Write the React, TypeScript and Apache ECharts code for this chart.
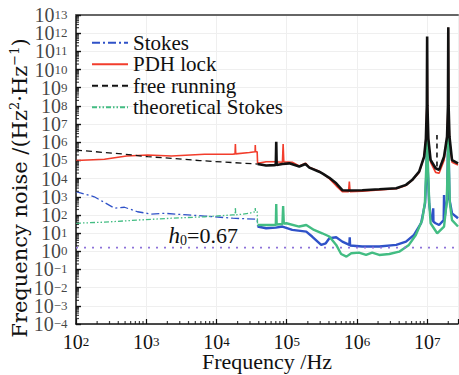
import React, { useEffect, useRef } from 'react';
import * as echarts from 'echarts';

const freqRange: [number, number] = [100, 2.75e7];
const noiseRange: [number, number] = [1e-4, 1e13];
const xDecades = [2, 3, 4, 5, 6, 7];
const yDecades = [-4, -3, -2, -1, 0, 1, 2, 3, 4, 5, 6, 7, 8, 9, 10, 11, 12, 13];
const minorSteps = [2, 3, 4, 5, 6, 7, 8, 9];

const legendNames = ['Stokes', 'PDH lock', 'free running', 'theoretical Stokes'];
const xTitle = 'Frequency /Hz';
const h0Value = 0.67;
const h0Level = 1.6;

const pdhLock: [number, number][] = [
  [100, 9.8e4], [254, 1.15e5], [525, 1.74e5], [1050, 2.0e5], [2290, 1.74e5], [6760, 2.2e5],
  [1.7e4, 2.2e5], [1.84e4, 2.3e5], [1.86e4, 7.9e5], [1.88e4, 2.3e5], [2.95e4, 2.7e5],
  [3.55e4, 3.0e5], [3.57e4, 7.0e5], [3.6e4, 3.0e5], [3.8e4, 3.0e5], [3.85e4, 6.9e4],
  [5.1e4, 8.5e4], [6.6e4, 8.5e4], [8.7e4, 7.9e4], [8.9e4, 7.9e5], [9.1e4, 8.3e4],
  [1.2e5, 7.9e4], [1.51e5, 5.0e4], [1.85e5, 7.1e4], [2.1e5, 4.2e4], [2.9e5, 2.5e4],
  [3.3e5, 1.8e4], [4.05e5, 1.0e4], [5.07e5, 4.0e3], [6.2e5, 1.9e3], [7.6e5, 1.9e3],
  [7.8e5, 6.8e3], [8.0e5, 1.9e3], [1.19e6, 2.0e3], [2.08e6, 2.4e3], [3.63e6, 2.8e3],
  [5.0e6, 4.2e3], [6.1e6, 7.9e3], [7.7e6, 2.2e4], [9.06e6, 1.6e5], [9.6e6, 1.6e6],
  [9.9e6, 1e8], [1e7, 5.6e11], [1.01e7, 1e8], [1.04e7, 1.3e6], [1.12e7, 7.9e4],
  [1.32e7, 2.2e4], [1.48e7, 1.95e4], [1.74e7, 1.0e5], [1.92e7, 1.6e6], [1.98e7, 1e8],
  [2.0e7, 2.0e12], [2.02e7, 1e8], [2.08e7, 1.6e6], [2.26e7, 7.9e4], [2.75e7, 5.6e4],
];

const freeRunningDashed: [number, number][] = [
  [100, 3.7e5], [490, 2.2e5], [1050, 1.6e5], [2290, 1.3e5], [5750, 9.8e4], [1.7e4, 7.6e4], [3.85e4, 6.3e4],
];

const freeRunningNoisy: [number, number][] = [
  [3.85e4, 6.3e4], [5.1e4, 5.2e4], [6.6e4, 5.5e4], [7.0e4, 5.6e4], [7.1e4, 1.07e6], [7.2e4, 5.6e4],
  [8.7e4, 6.3e4], [1.09e5, 6.9e4], [1.51e5, 4.6e4], [1.85e5, 6.3e4], [2.1e5, 4.0e4],
  [2.9e5, 2.4e4], [3.3e5, 1.8e4], [4.05e5, 1.1e4], [5.07e5, 5.5e3], [6.2e5, 2.3e3],
  [7.8e5, 2.2e3], [1.19e6, 2.3e3], [2.08e6, 2.6e3], [3.63e6, 2.95e3], [5.0e6, 4.5e3],
  [6.1e6, 8.3e3], [7.7e6, 2.4e4], [9.06e6, 1.6e5], [9.6e6, 1.6e6], [9.9e6, 1e8],
  [1e7, 6.5e11], [1.01e7, 1e8], [1.04e7, 1.6e6], [1.12e7, 1.05e5], [1.32e7, 3.7e4],
  [1.48e7, 3.0e4], [1.74e7, 1.6e5], [1.92e7, 2.0e6], [1.98e7, 1e8], [2.0e7, 2.1e12],
  [2.02e7, 1e8], [2.08e7, 2.0e6], [2.26e7, 1.05e5], [2.75e7, 6.9e4],
];

const freeRunningSpike: [number, number][] = [[1.38e7, 4.6e4], [1.38e7, 2.5e6]];

const stokesLow: [number, number][] = [
  [100, 1.9e3], [182, 1.0e3], [355, 235], [490, 265], [750, 150], [1175, 112], [1820, 123],
  [3900, 100], [6760, 87], [1.7e4, 66], [3.8e4, 58], [3.85e4, 23],
];

const stokesHigh: [number, number][] = [
  [3.85e4, 23], [5.1e4, 18.6], [7.0e4, 20], [8.7e4, 23], [1.2e5, 15], [1.9e5, 12], [2.3e5, 6.5],
  [3.1e5, 2.24], [3.6e5, 2.75], [4.05e5, 5.2], [5.07e5, 5.9], [6.2e5, 3.4], [7.8e5, 2.24],
  [7.9e5, 5.9], [8.0e5, 2.1], [1.19e6, 1.82], [2.08e6, 1.82], [3.63e6, 2.24], [5.0e6, 3.4],
  [6.5e6, 7.9], [8.2e6, 35], [9.35e6, 440], [9.8e6, 3e4], [1e7, 3e6], [1.02e7, 3e4],
  [1.07e7, 400], [1.12e7, 100], [1.21e7, 45], [1.22e7, 234], [1.23e7, 42], [1.32e7, 35],
  [1.48e7, 28], [1.72e7, 52], [1.74e7, 1260], [1.76e7, 58], [1.92e7, 700], [2.0e7, 5e6],
  [2.08e7, 700], [2.26e7, 123], [2.75e7, 66],
];

const theoryLow: [number, number][] = [
  [100, 35], [254, 40], [750, 52], [2290, 66], [6760, 79], [1.7e4, 100], [1.84e4, 100],
  [1.86e4, 263], [1.88e4, 100], [2.95e4, 123], [3.55e4, 150], [3.57e4, 240], [3.6e4, 150],
  [3.8e4, 150], [3.85e4, 28],
];

const theoryHigh: [number, number][] = [
  [3.85e4, 28], [7.0e4, 28], [7.1e4, 400], [7.2e4, 30], [8.7e4, 32], [8.9e4, 310], [9.1e4, 33],
  [9.9e4, 35], [1.51e5, 23], [1.9e5, 28], [2.45e5, 15], [3.2e5, 9.8], [4.05e5, 6.5],
  [5.07e5, 2.24], [5.96e5, 0.71], [7.1e5, 0.51], [8.3e5, 0.78], [1.07e6, 0.85], [1.35e6, 0.63],
  [1.65e6, 0.85], [2.08e6, 0.63], [2.89e6, 0.71], [4.0e6, 0.95], [5.5e6, 2.24], [6.9e6, 7.9],
  [8.5e6, 52], [9.3e6, 500], [9.8e6, 1e5], [1e7, 1.5e7], [1.02e7, 1e5], [1.07e7, 500],
  [1.12e7, 35], [1.39e7, 9.8], [1.74e7, 23], [1.9e7, 500], [1.97e7, 1e5], [2e7, 1e8],
  [2.03e7, 1e5], [2.1e7, 500], [2.26e7, 52], [2.75e7, 23],
];

const h0Line: [number, number][] = [[freqRange[0], h0Level], [freqRange[1], h0Level]];

const SERIF = 'Liberation Serif';
const INK = '#111111';

const xMinor = xDecades
  .flatMap((d) => minorSteps.map((m) => m * Math.pow(10, d)))
  .filter((v) => v < freqRange[1]);
const yMinor = yDecades.slice(0, -1).flatMap((d) => minorSteps.map((m) => m * Math.pow(10, d)));
const yMajor = yDecades.map((d) => Math.pow(10, d));

const expLabel = (value: number) => {
  const lg = Math.log10(value);
  const e = Math.round(lg);
  if (Math.abs(lg - e) > 1e-6) return '';
  const s = e < 0 ? '\u2212' + Math.abs(e) : String(e);
  return `{b|10}{s|${s}}`;
};

const labelRich = {
  b: { fontFamily: SERIF, fontSize: 20, lineHeight: 14, color: INK },
  s: { fontFamily: SERIF, fontSize: 13, lineHeight: 6, verticalAlign: 'top', color: INK },
};

export default function App() {
  const ref = useRef<HTMLDivElement>(null);
  useEffect(() => {
    if (!ref.current) return;
    const chart = echarts.init(ref.current, undefined, { renderer: 'svg' });
    const lineBase = { type: 'line', symbol: 'none', showSymbol: false, smooth: false };
    const option: any = {
      animation: false,
      backgroundColor: '#ffffff',
      grid: { left: 76, right: 1, top: 15, bottom: 51, outerBoundsMode: 'none' },
      legend: {
        data: legendNames,
        orient: 'vertical',
        left: 86,
        top: 27,
        itemWidth: 36,
        itemHeight: 14,
        itemGap: 0,
        itemStyle: { opacity: 0 },
        textStyle: { fontFamily: SERIF, fontSize: 21, color: INK, lineHeight: 21.5 },
        selectedMode: false,
      },
      xAxis: [
        {
          type: 'log',
          logBase: 10,
          min: freqRange[0],
          max: freqRange[1],
          name: xTitle,
          nameLocation: 'middle',
          nameGap: 27,
          nameMoveOverlap: false,
          nameTextStyle: { fontFamily: SERIF, fontSize: 22, color: INK, lineHeight: 20 },
          axisLine: { show: true, lineStyle: { color: INK, width: 1.5 } },
          axisTick: { show: true, inside: true, length: 5, lineStyle: { color: INK, width: 1.2 } },
          axisLabel: { margin: 11, formatter: expLabel, rich: labelRich, showMinLabel: true, showMaxLabel: true },
          splitLine: { show: true, lineStyle: { color: '#efefef', width: 1 } },
          minorTick: { show: false },
          minorSplitLine: { show: false },
        },
        {
          type: 'log',
          logBase: 10,
          position: 'top',
          min: freqRange[0],
          max: freqRange[1],
          axisLine: { show: true, lineStyle: { color: '#666666', width: 2 } },
          axisTick: { show: false },
          axisLabel: { show: false },
          splitLine: { show: false },
        },
      ],
      yAxis: {
        type: 'log',
        logBase: 10,
        min: noiseRange[0],
        max: noiseRange[1],
        interval: 1,
        axisLine: { show: true, lineStyle: { color: INK, width: 1.5 } },
        axisTick: { show: true, inside: true, length: 5, lineStyle: { color: INK, width: 1.4 } },
        axisLabel: { show: false },
        splitLine: { show: true, lineStyle: { color: '#efefef', width: 1 } },
        minorTick: { show: false },
      },
      graphic: [
        {
          type: 'text',
          x: 20,
          y: 188,
          rotation: Math.PI / 2,
          style: {
            text: '{a|Frequency noise /(Hz}{s|2}{a|\u00b7Hz}{s|\u22121}{a|)}',
            align: 'center',
            verticalAlign: 'middle',
            rich: {
              a: { fontFamily: 'DejaVu Serif', fontSize: 21, lineHeight: 24, fill: INK },
              s: { fontFamily: 'DejaVu Serif', fontSize: 13, lineHeight: 13, verticalAlign: 'top', fill: INK },
            },
          },
        },
      ],
      series: [
        { ...lineBase, name: 'PDH lock', data: pdhLock, lineStyle: { color: '#f23d2c', width: 1.6 }, itemStyle: { color: '#f23d2c' }, z: 2 },
        { ...lineBase, name: 'free running', data: freeRunningDashed, lineStyle: { color: INK, width: 1.3, type: [6, 4] }, itemStyle: { color: INK }, z: 5 },
        { ...lineBase, name: 'free running', data: freeRunningNoisy, lineStyle: { color: INK, width: 2.6 }, itemStyle: { color: INK }, z: 5 },
        { ...lineBase, name: 'free running', data: freeRunningSpike, lineStyle: { color: INK, width: 1.6, type: [5, 4] }, itemStyle: { color: INK }, z: 5 },
        { ...lineBase, name: 'Stokes', data: stokesLow, lineStyle: { color: '#2f52c8', width: 1.3, type: [8, 3, 2, 3] }, itemStyle: { color: '#2f52c8' }, z: 3 },
        { ...lineBase, name: 'Stokes', data: stokesHigh, lineStyle: { color: '#2f52c8', width: 2.4 }, itemStyle: { color: '#2f52c8' }, z: 3 },
        { ...lineBase, name: 'theoretical Stokes', data: theoryLow, lineStyle: { color: '#43bd83', width: 1.3, type: [5, 2, 1.5, 2, 1.5, 2] }, itemStyle: { color: '#43bd83' }, z: 4 },
        { ...lineBase, name: 'theoretical Stokes', data: theoryHigh, lineStyle: { color: '#43bd83', width: 2.4 }, itemStyle: { color: '#43bd83' }, z: 4 },
        {
          ...lineBase,
          name: 'h0',
          data: h0Line,
          lineStyle: { color: '#8e73d9', width: 1.6, type: [2, 6] },
          z: 6,
          markPoint: {
            silent: true,
            symbol: 'circle',
            symbolSize: 1,
            itemStyle: { color: 'transparent' },
            data: [{ coord: [6.5e3, 7] }],
            label: {
              show: true,
              position: 'inside',
              formatter: `{h|h}{sub|0}{t|=${h0Value}}`,
              rich: {
                h: { fontFamily: SERIF, fontSize: 23, fontStyle: 'italic', lineHeight: 24, color: INK },
                sub: { fontFamily: SERIF, fontSize: 14, lineHeight: 12, verticalAlign: 'bottom', color: INK },
                t: { fontFamily: SERIF, fontSize: 22, lineHeight: 24, color: INK },
              },
            },
          },
        },
        {
          type: 'scatter',
          data: xMinor.map((v) => [v, noiseRange[0]]),
          symbol: 'rect',
          symbolSize: [1.2, 3],
          symbolOffset: [0, -1.5],
          itemStyle: { color: INK },
          silent: true,
          clip: false,
          z: 7,
        },
        {
          type: 'scatter',
          data: yMinor.map((v) => [freqRange[0], v]),
          symbol: 'rect',
          symbolSize: [3, 1.2],
          symbolOffset: [1.5, 0],
          itemStyle: { color: INK },
          silent: true,
          clip: false,
          z: 7,
        },
        {
          type: 'scatter',
          data: yMajor.map((v) => [freqRange[0], v]),
          symbol: 'rect',
          symbolSize: 1,
          itemStyle: { color: 'transparent' },
          silent: true,
          clip: false,
          z: 7,
          label: {
            show: true,
            position: 'left',
            distance: 8,
            formatter: (p: any) => expLabel(p.value[1]),
            rich: labelRich,
          },
          labelLayout: { hideOverlap: false },
        },
      ],
    };
    chart.setOption(option);
    return () => chart.dispose();
  }, []);
  return <div ref={ref} style={{ width: 459, height: 375, position: 'absolute', left: 0, top: 0 }} />;
}
